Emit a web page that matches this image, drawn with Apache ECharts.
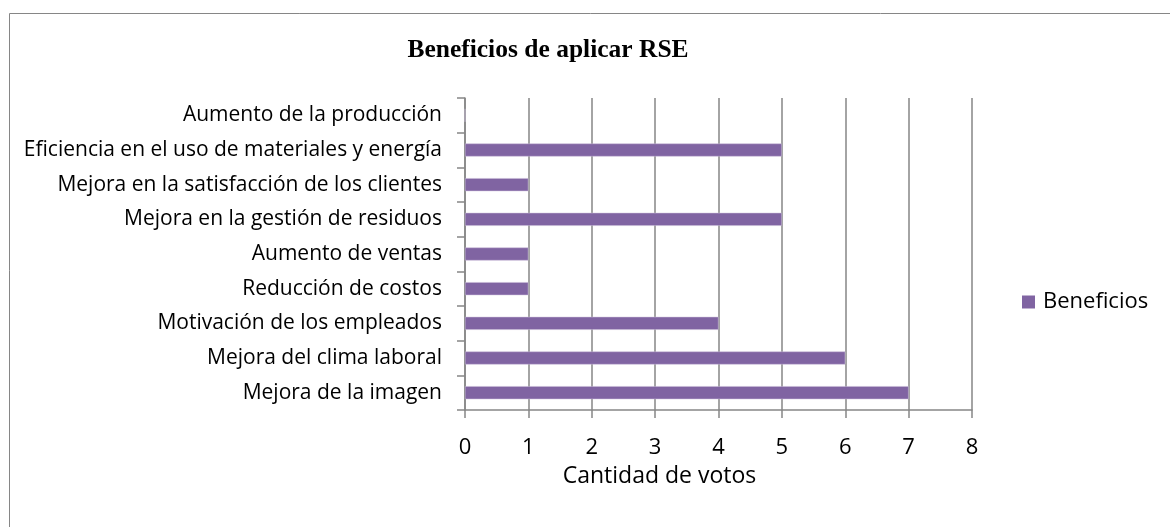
<!DOCTYPE html>
<html>
<head>
<meta charset="utf-8">
<script src="https://cdn.jsdelivr.net/npm/echarts@6/dist/echarts.min.js"></script>
<style>html,body{margin:0;padding:0;background:#fff}#c{width:1170px;height:527px}</style>
</head>
<body>
<div id="c"></div>
<script>
const categories = [
  "Mejora de la imagen",
  "Mejora del clima laboral",
  "Motivación de los empleados",
  "Reducción de costos",
  "Aumento de ventas",
  "Mejora en la gestión de residuos",
  "Mejora en la satisfacción de los clientes",
  "Eficiencia en el uso de materiales y energía",
  "Aumento de la producción"
];
const beneficios = [7, 6, 4, 1, 1, 5, 1, 5, 0];
const xTicks = [0, 1, 2, 3, 4, 5, 6, 7, 8];

const chart = echarts.init(document.getElementById('c'));
const font = '"Open Sans", sans-serif';
const lineC = '#868686';
chart.setOption({
  animation: false,
  graphic: [{
    type: 'rect', left: 7, top: 11, shape: {width: 1300, height: 700},
    style: {fill: 'none', stroke: lineC, lineWidth: 1}, silent: true, z: -1
  }],
  title: {
    text: 'Beneficios de aplicar RSE',
    left: 543, top: 32, textAlign: 'center',
    textStyle: {fontFamily: '"Liberation Serif", "Times New Roman", serif', fontWeight: 'bold', fontSize: 25.5, color: '#000'}
  },
  legend: {
    data: ['Beneficios'], left: 1017, top: 286, orient: 'vertical',
    itemWidth: 13, itemHeight: 13, itemGap: 8,
    icon: 'rect',
    itemStyle: {borderWidth: 0},
    textStyle: {fontFamily: font, fontSize: 22, color: '#000', padding: [0,0,0,3]}
  },
  grid: {left: 465, right: 198, top: 98, bottom: 117, containLabel: false},
  xAxis: {
    type: 'value', min: 0, max: 8, interval: 1,
    name: 'Cantidad de votos', nameLocation: 'middle', nameGap: 55,
    nameTextStyle: {fontFamily: font, fontSize: 23, color: '#000', padding: [0, 118, 0, 0]},
    axisLine: {show: true, lineStyle: {color: lineC, width: 1.5}},
    axisTick: {show: true, length: 8, lineStyle: {color: lineC, width: 1.5}},
    axisLabel: {fontFamily: font, fontSize: 22, color: '#000', margin: 27,
      formatter: v => String(xTicks[v] !== undefined ? xTicks[v] : v)},
    splitLine: {show: true, lineStyle: {color: lineC, width: 1.5}}
  },
  yAxis: {
    type: 'category', data: categories,
    axisLine: {show: true, lineStyle: {color: lineC, width: 1.5}},
    axisTick: {show: true, length: 8, lineStyle: {color: lineC, width: 1.5}},
    axisLabel: {fontFamily: font, fontSize: 21, color: '#000', margin: 23}
  },
  series: [{
    name: 'Beneficios', type: 'bar', data: beneficios, barWidth: 13,
    itemStyle: {color: '#8064A2', borderColor: '#c8bcd8', borderWidth: 0.5}
  }]
});
</script>
</body>
</html>
